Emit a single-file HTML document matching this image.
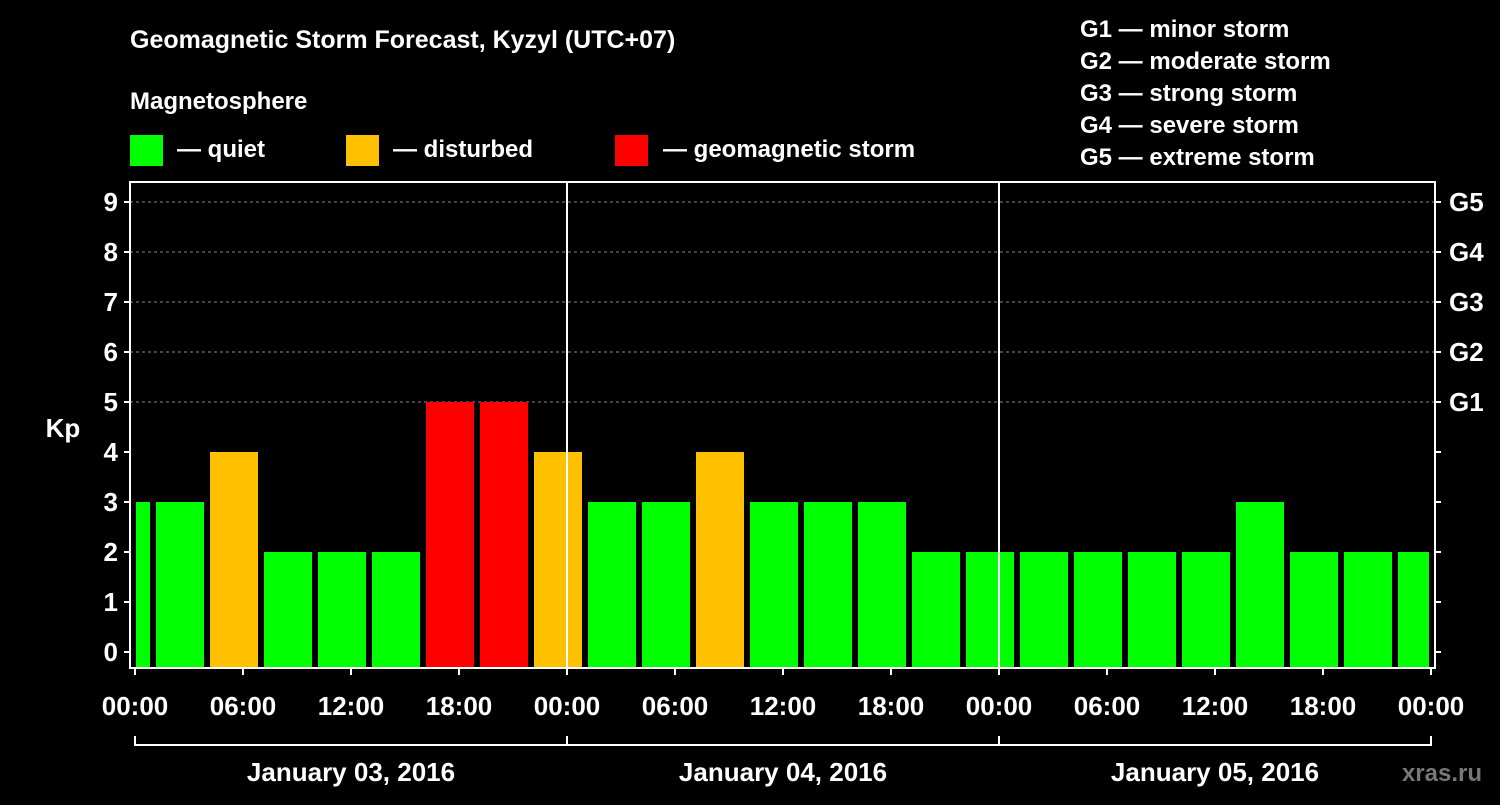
<!DOCTYPE html>
<html><head><meta charset="utf-8"><style>
body{margin:0;background:#000;}
svg text{font-family:"Liberation Sans",Arial,sans-serif;font-weight:bold;fill:#fff;}
</style></head><body>
<svg id="chart" width="1500" height="800" xmlns="http://www.w3.org/2000/svg">
<rect width="1500" height="800" fill="#000"/>
<text x="130" y="48" font-size="25">Geomagnetic Storm Forecast, Kyzyl (UTC+07)</text>
<text x="130" y="109" font-size="24">Magnetosphere</text>
<g><rect x="130" y="135" width="33" height="31" fill="#00ff00"/><text x="177" y="157" font-size="24">— quiet</text></g>
<g><rect x="346" y="135" width="33" height="31" fill="#ffc000"/><text x="393" y="157" font-size="24">— disturbed</text></g>
<g><rect x="615" y="135" width="33" height="31" fill="#ff0000"/><text x="663" y="157" font-size="24">— geomagnetic storm</text></g>
<g font-size="24">
<text x="1080" y="37">G1 — minor storm</text>
<text x="1080" y="69">G2 — moderate storm</text>
<text x="1080" y="101">G3 — strong storm</text>
<text x="1080" y="133">G4 — severe storm</text>
<text x="1080" y="165">G5 — extreme storm</text>
</g>
<text x="63" y="437" font-size="26" text-anchor="middle">Kp</text>
<text x="1482" y="781" font-size="24" text-anchor="end" fill="#777" style="fill:#777">xras.ru</text>
<g id="grid"></g><g id="bars"></g><g id="axes"></g>
</svg>
<script>
const kpValues=[3,3,4,2,2,2,5,5,4,3,3,4,3,3,3,2,2,2,2,2,2,3,2,2,2];
const firstBarStartHour=-2;
const barHours=3;
const yTicks=[0,1,2,3,4,5,6,7,8,9];
const gLabels=["G1","G2","G3","G4","G5"];
const xTickLabels=["00:00","06:00","12:00","18:00","00:00","06:00","12:00","18:00","00:00","06:00","12:00","18:00","00:00"];
const dateLabels=["January 03, 2016","January 04, 2016","January 05, 2016"];
const NS="http://www.w3.org/2000/svg";
const x0=135,pxPerHour=18,totalHours=72,y0=652,pxPerKp=50;
const L=130,R=1435,T=182,B=668;
const xs=h=>x0+h*pxPerHour, ys=v=>y0-v*pxPerKp;
function mk(tag,attrs,parent,txt){const e=document.createElementNS(NS,tag);for(const k in attrs)e.setAttribute(k,attrs[k]);if(txt!==undefined)e.textContent=txt;document.getElementById(parent).appendChild(e);return e;}
const color=v=>v>=5?"#ff0000":(v>=4?"#ffc000":"#00ff00");
// grid
for(let v=5;v<=9;v++){const g=mk("line",{x1:L,x2:R,y1:ys(v),y2:ys(v),stroke:"#888","stroke-dasharray":"3,3","stroke-width":1},"grid");

}
// bars
kpValues.forEach((v,i)=>{let a=xs(firstBarStartHour+i*barHours)+3,b=xs(firstBarStartHour+(i+1)*barHours)-3;
a=Math.max(a,x0+1);b=Math.min(b,xs(totalHours)-2);
const r=mk("rect",{x:a,y:ys(v),width:b-a,height:B-ys(v),fill:color(v)},"bars");

});
// frame
const f=mk("rect",{x:L,y:T,width:R-L,height:B-T,fill:"none",stroke:"#fff","stroke-width":2},"axes");


[24,48].forEach(h=>{const l=mk("line",{x1:xs(h),x2:xs(h),y1:T,y2:B,stroke:"#fff","stroke-width":2},"axes");

});
yTicks.forEach(v=>{mk("line",{x1:L-6,x2:L,y1:ys(v),y2:ys(v),stroke:"#fff","stroke-width":2},"axes");
mk("line",{x1:R,x2:R+6,y1:ys(v),y2:ys(v),stroke:"#fff","stroke-width":2},"axes");
const t=mk("text",{x:L-12,y:ys(v)+9,"font-size":26,"text-anchor":"end"},"axes",String(v));

});
gLabels.forEach((g,i)=>{const t=mk("text",{x:R+14,y:ys(5+i)+9,"font-size":26},"axes",g);

});
xTickLabels.forEach((s,i)=>{const x=xs(i*6);mk("line",{x1:x,x2:x,y1:B,y2:B+7,stroke:"#fff","stroke-width":2},"axes");
const t=mk("text",{x:x,y:715,"font-size":26,"text-anchor":"middle"},"axes",s);

});
const br=mk("line",{x1:xs(0),x2:xs(totalHours),y1:745,y2:745,stroke:"#fff","stroke-width":2},"axes");


[0,24,48,72].forEach(h=>mk("line",{x1:xs(h),x2:xs(h),y1:736,y2:746,stroke:"#fff","stroke-width":2},"axes"));
dateLabels.forEach((d,i)=>{const t=mk("text",{x:xs(i*24+12),y:781,"font-size":26,"text-anchor":"middle"},"axes",d);

});
</script>
</body></html>
